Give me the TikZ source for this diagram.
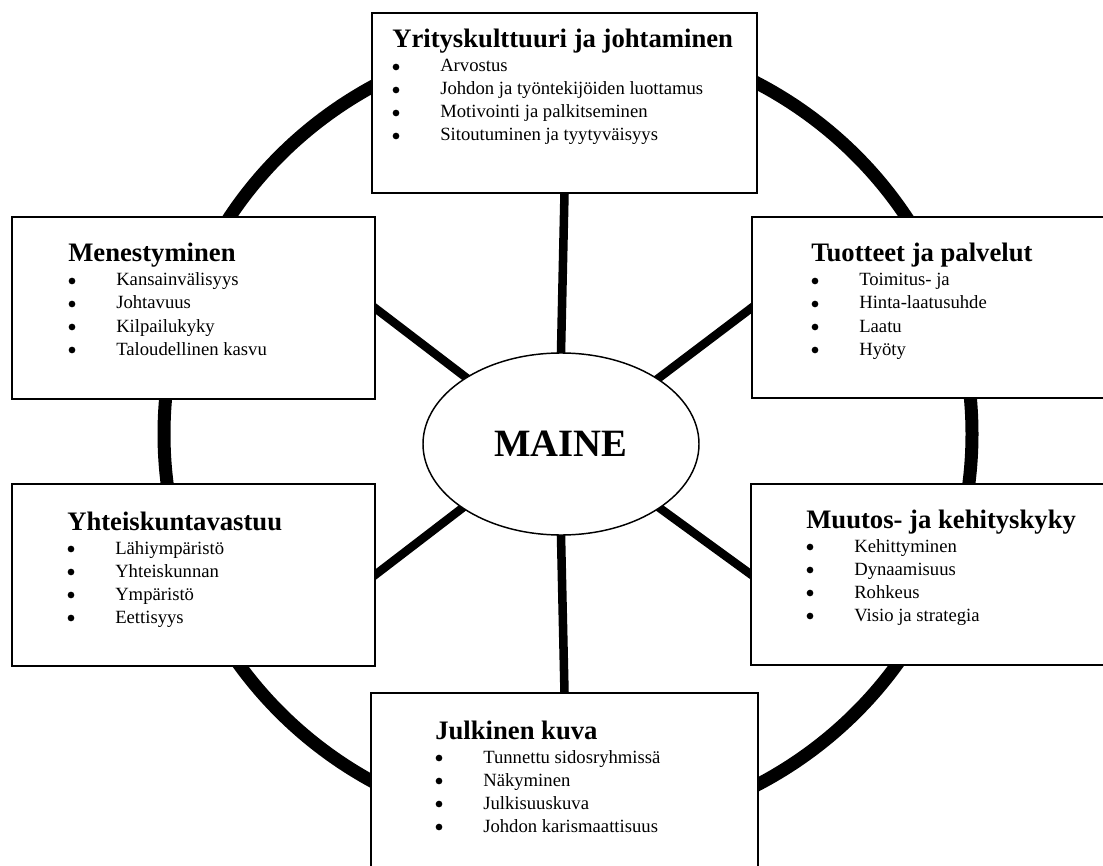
\documentclass[tikz,border=0pt]{standalone}
\usepackage{fontspec}
\setmainfont{Liberation Serif}
\usetikzlibrary{shapes.geometric,backgrounds}
\newcommand\mkgroup[5]{%
  \node[ttl] (#1-t) at (#2,#3) {#4};
  \foreach \itm [count=\k] in {#5}{
    \fill (#2+4, #3-4+23*\k) circle (2.5pt);
    \node[itm] (#1-\k) at (#2+48, #3+1+23*\k) {\itm};
  }%
}
\begin{document}
\begin{tikzpicture}[x=0.75pt,y=-0.75pt,
  box/.style={draw, fill=white, line width=1.5pt, inner sep=0pt, outer sep=0pt},
  ttl/.style={anchor=base west, inner sep=0pt, font=\fontsize{20}{24}\selectfont\bfseries},
  itm/.style={anchor=base west, inner sep=0pt, font=\fontsize{14}{16}\selectfont},
  ring/.style={line width=9.75pt},
  spoke/.style={line width=6.4pt, shorten <=-4pt, shorten >=-4pt},
  core/.style={ellipse, draw, fill=white, line width=1.1pt, inner sep=0pt,
    minimum width=207pt, minimum height=136.5pt,
    font=\fontsize{29}{33}\selectfont\bfseries}]
\useasboundingbox (0,0) rectangle (1103,866);
% boxes
\node[box, minimum width=288.75pt, minimum height=135pt] (top) at (564.5,103) {};
\node[box, minimum width=272.25pt, minimum height=136.5pt] (ul) at (193.5,308) {};
\node[box, minimum width=276pt, minimum height=135.75pt] (ur) at (936,307.5) {};
\node[box, minimum width=272.25pt, minimum height=136.5pt] (ll) at (193.5,575) {};
\node[box, minimum width=276.75pt, minimum height=135.75pt] (lr) at (935.5,574.5) {};
\node[box, minimum width=290.25pt, minimum height=140.25pt] (bot) at (564.5,786.5) {};
% centre
\node[core] (m) at (561,444) {MAINE};
% texts
\mkgroup{gt}{392}{48}{Yrityskulttuuri ja johtaminen}{Arvostus,Johdon ja työntekijöiden luottamus,Motivointi ja palkitseminen,Sitoutuminen ja tyytyväisyys}
\mkgroup{gul}{68}{262}{Menestyminen}{Kansainvälisyys,Johtavuus,Kilpailukyky,Taloudellinen kasvu}
\mkgroup{gur}{811}{262}{Tuotteet ja palvelut}{Toimitus- ja,Hinta-laatusuhde,Laatu,Hyöty}
\mkgroup{gll}{67}{530}{Yhteiskuntavastuu}{Lähiympäristö,Yhteiskunnan,Ympäristö,Eettisyys}
\mkgroup{glr}{806}{528}{Muutos- ja kehityskyky}{Kehittyminen,Dynaamisuus,Rohkeus,Visio ja strategia}
\mkgroup{gb}{435}{739}{Julkinen kuva}{Tunnettu sidosryhmissä,Näkyminen,Julkisuuskuva,Johdon karismaattisuus}
% background: ring and spokes
\begin{pgfonlayer}{background}
\fill[white] (0,0) rectangle (1103,866);
\draw[ring] (568,434) ellipse [x radius=303pt, y radius=297.75pt];
\draw[spoke] (m.north) -- (top.south);
\draw[spoke] (m.south) -- (bot.north);
\draw[spoke] (m.145.5) -- (ul.east);
\draw[spoke] (m.34.2) -- (ur.west);
\draw[spoke] (m.213.7) -- (ll.east);
\draw[spoke] (m.327) -- (lr.west);
\end{pgfonlayer}
\end{tikzpicture}
\end{document}
